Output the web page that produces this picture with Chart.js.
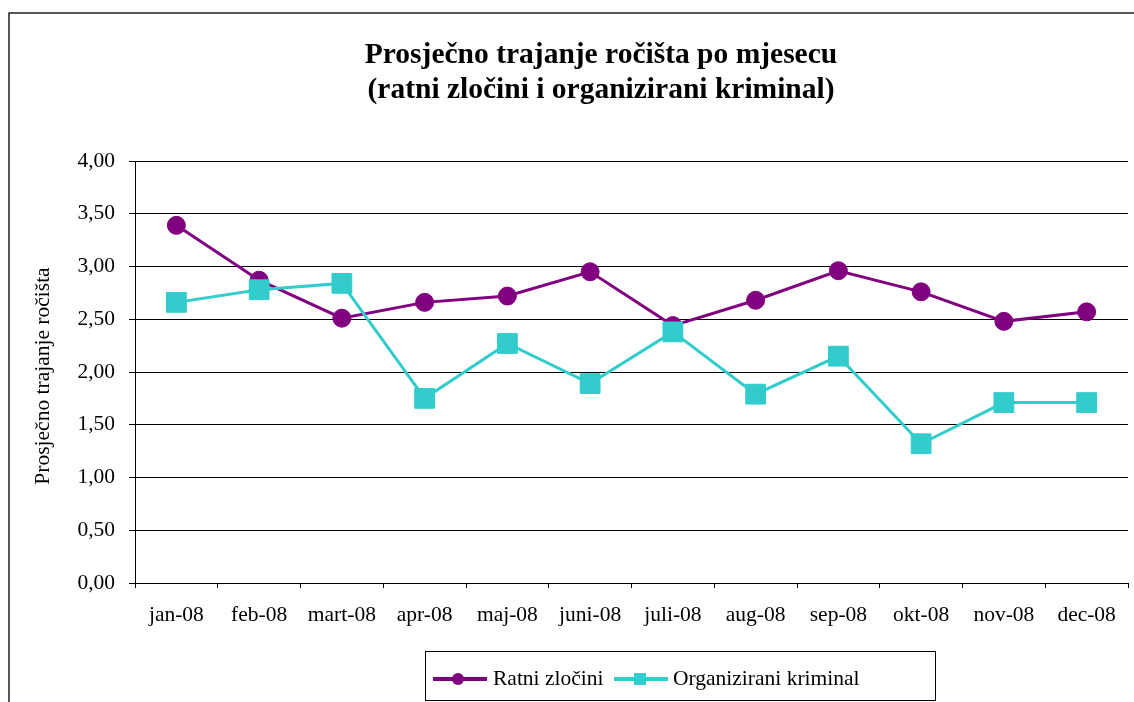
<!DOCTYPE html>
<html>
<head>
<meta charset="utf-8">
<script src="https://cdn.jsdelivr.net/npm/chart.js@4/dist/chart.umd.min.js"></script>
<style>
  body { margin: 0; background: #fff; }
  canvas { display: block; }
</style>
</head>
<body>
<canvas id="chart" width="1134" height="702"></canvas>
<script>
const months = ["jan-08", "feb-08", "mart-08", "apr-08", "maj-08", "juni-08",
  "juli-08", "aug-08", "sep-08", "okt-08", "nov-08", "dec-08"];
const ratniZlocini = [3.39, 2.87, 2.51, 2.66, 2.72, 2.95, 2.44, 2.68, 2.96, 2.76, 2.48, 2.57];
const organiziraniKriminal = [2.66, 2.78, 2.84, 1.75, 2.27, 1.89, 2.38, 1.79, 2.15, 1.32, 1.71, 1.71];
const yTicks = [0, 0.5, 1, 1.5, 2, 2.5, 3, 3.5, 4];

const titleLines = ["Prosječno trajanje ročišta po mjesecu", "(ratni zločini i organizirani kriminal)"];
const yTitle = "Prosječno trajanje ročišta";
const serif = "'Liberation Serif', 'Times New Roman', serif";
const textSize = 21.5;

// frame, titles and the excel-like legend box
const decorations = {
  id: "decorations",
  beforeDraw(chart) {
    const ctx = chart.ctx;
    ctx.save();
    ctx.strokeStyle = "#222";
    ctx.lineWidth = 1.5;
    ctx.strokeRect(9, 13, 1140, 700);
    ctx.restore();
  },
  afterDraw(chart) {
    const ctx = chart.ctx;
    ctx.save();
    ctx.fillStyle = "#000";
    ctx.textAlign = "center";
    ctx.textBaseline = "middle";
    ctx.font = "bold 29.5px " + serif;
    ctx.fillText(titleLines[0], 601, 55);
    ctx.fillText(titleLines[1], 601, 90);

    ctx.font = textSize + "px " + serif;
    ctx.translate(43, 376);
    ctx.rotate(-Math.PI / 2);
    ctx.fillText(yTitle, 0, 0);
    ctx.restore();

    // legend
    ctx.save();
    ctx.strokeStyle = "#000";
    ctx.lineWidth = 1;
    ctx.strokeRect(425.5, 651.5, 510, 49);
    const items = [
      { x: 433, text: 493 },
      { x: 614, text: 673 },
    ];
    chart.data.datasets.forEach((ds, i) => {
      const it = items[i];
      const y = 679;
      ctx.strokeStyle = ds.borderColor;
      ctx.lineWidth = 4;
      ctx.beginPath();
      ctx.moveTo(it.x, y);
      ctx.lineTo(it.x + 54, y);
      ctx.stroke();
      ctx.fillStyle = ds.borderColor;
      if (ds.pointStyle === "circle") {
        ctx.beginPath();
        ctx.arc(it.x + 25, y, 6, 0, Math.PI * 2);
        ctx.fill();
      } else {
        ctx.fillRect(it.x + 20, y - 6, 12, 12);
      }
      ctx.fillStyle = "#000";
      ctx.font = textSize + "px " + serif;
      ctx.textAlign = "left";
      ctx.textBaseline = "middle";
      ctx.fillText(ds.label, it.text, y);
    });
    ctx.restore();
  },
};

new Chart(document.getElementById("chart"), {
  type: "line",
  data: {
    labels: months,
    datasets: [
      {
        label: "Ratni zločini",
        data: ratniZlocini,
        borderColor: "#800080",
        backgroundColor: "#800080",
        borderWidth: 3,
        pointStyle: "circle",
        pointRadius: 9,
        pointBorderWidth: 1,
        tension: 0,
        order: 2,
      },
      {
        label: "Organizirani kriminal",
        data: organiziraniKriminal,
        borderColor: "#33CCCC",
        backgroundColor: "#33CCCC",
        borderWidth: 3,
        pointStyle: "rect",
        pointRadius: 14,
        pointBorderWidth: 1,
        tension: 0,
        order: 1,
      },
    ],
  },
  options: {
    responsive: false,
    animation: false,
    devicePixelRatio: 1,
    layout: { autoPadding: false, padding: { top: 161, right: 6, bottom: 70, left: 0 } },
    plugins: {
      legend: { display: false },
      title: { display: false },
      tooltip: { enabled: false },
    },
    scales: {
      x: {
        offset: true,
        afterFit(scale) {
          scale.height = 49;
          scale.paddingLeft = 0;
          scale.paddingRight = 0;
        },
        grid: {
          offset: true,
          drawOnChartArea: false,
          drawTicks: true,
          tickLength: 5,
          color: "#000",
        },
        border: { color: "#000", width: 1 },
        ticks: {
          color: "#000",
          padding: 14,
          maxRotation: 0,
          autoSkip: false,
          font: { family: serif, size: textSize },
        },
      },
      y: {
        min: 0,
        max: 4,
        afterFit(scale) {
          scale.width = 135;
          scale.paddingTop = 0;
          scale.paddingBottom = 0;
        },
        afterBuildTicks(scale) { scale.ticks = yTicks.map((v) => ({ value: v })); },
        grid: { color: "#000", tickLength: 6, lineWidth: 1 },
        border: { color: "#000", width: 1 },
        ticks: {
          color: "#000",
          padding: 14,
          font: { family: serif, size: textSize },
          callback: (v) => v.toFixed(2).replace(".", ","),
        },
      },
    },
  },
  plugins: [decorations],
});
</script>
</body>
</html>
